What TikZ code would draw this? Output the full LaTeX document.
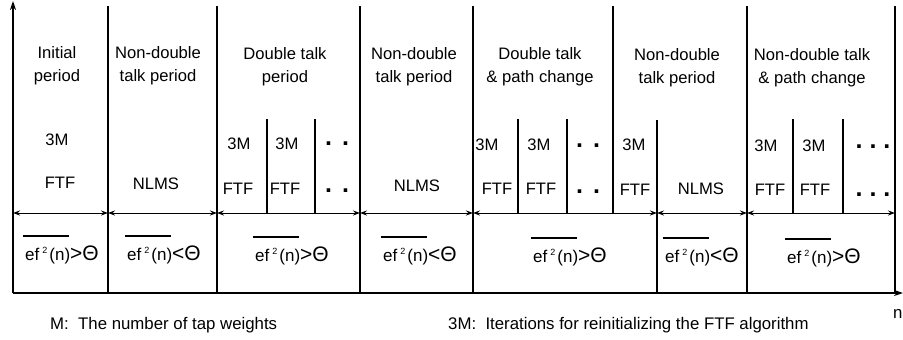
\documentclass[tikz,border=0pt]{standalone}
\usepackage{fontspec}
\setmainfont{Liberation Sans}
\usetikzlibrary{arrows.meta}
\newsavebox\efbox
\newcommand{\cnd}[1]{\sbox\efbox{ef\kern3pt\raisebox{6.5pt}{\fontsize{9}{9}\selectfont 2}\kern2pt(n)}\rlap{\kern-2pt\rule[23pt]{\dimexpr\wd\efbox+1pt\relax}{1.6pt}}\usebox\efbox{\fontsize{21}{21}\selectfont #1Θ}}
\tikzset{
  txt/.style={font=\fontsize{16.6}{20}\selectfont, inner sep=0pt, anchor=base},
  cond/.style={font=\fontsize{17}{20}\selectfont, inner sep=0pt, anchor=base},
  lbl/.style={font=\fontsize{16.8}{20}\selectfont, inner sep=0pt, anchor=base west},
  dts/.style={font=\fontsize{25}{25}\selectfont\bfseries, inner sep=0pt, anchor=base},
  mainline/.style={line width=1.8pt},
  subline/.style={line width=1.3pt},
  span/.style={line width=1pt, {Stealth[length=7pt,width=5pt]}-{Stealth[length=7pt,width=5pt]}},
  axis/.style={line width=1.8pt, -{Stealth[length=9pt,width=6pt]}},
}
\begin{document}
\begin{tikzpicture}[x=1pt,y=-1pt]
\useasboundingbox (0,0) rectangle (903,340);

% axes
\coordinate (o) at (13,293);
\coordinate (ytip) at (13,1);
\coordinate (xtip) at (903,293);
\draw[axis] (o) -- (ytip);
\draw[axis] (o) -- (xtip);

% main period separators
\foreach \x in {108,217,360,473,747,895}
  \draw[mainline] (\x,6) -- (\x,293);
\draw[mainline] (613,6) -- (613,213);
\draw[mainline] (657,120) -- (657,293);

% sub-period separators
\foreach \x in {267,315,518,567,793,843}
  \draw[subline] (\x,119) -- (\x,213);

% span arrows
\coordinate (a0) at (13,213);
\coordinate (a1) at (108,213);
\coordinate (a2) at (217,213);
\coordinate (a3) at (360,213);
\coordinate (a4) at (473,213);
\coordinate (a5) at (657,213);
\coordinate (a6) at (747,213);
\coordinate (a7) at (895,213);
\draw[span] (a0) -- (a1);
\draw[span] (a1) -- (a2);
\draw[span] (a2) -- (a3);
\draw[span] (a3) -- (a4);
\draw[span] (a4) -- (a5);
\draw[span] (a5) -- (a6);
\draw[span] (a6) -- (a7);

% headers
\node[txt] (h1a) at (57,58) {Initial};
\node[txt] (h1b) at (57,81) {period};
\node[txt] (h2a) at (158,58) {Non-double};
\node[txt] (h2b) at (158,81) {talk period};
\node[txt] (h3a) at (285,59) {Double talk};
\node[txt] (h3b) at (285,82) {period};
\node[txt] (h4a) at (414,59) {Non-double};
\node[txt] (h4b) at (414,82) {talk period};
\node[txt] (h5a) at (540,59) {Double talk};
\node[txt] (h5b) at (540,82) {\& path change};
\node[txt] (h6a) at (677,60) {Non-double};
\node[txt] (h6b) at (677,83) {talk period};
\node[txt] (h7a) at (812,60) {Non-double talk};
\node[txt] (h7b) at (812,83) {\& path change};

% 3M row
\node[txt] (m1) at (57,145) {3M};
\node[txt] (m3a) at (239,149) {3M};
\node[txt] (m3b) at (287,149) {3M};
\node[dts] (d3a) at (337,145) {.\hspace{10pt}.};
\node[txt] (m5a) at (487,150) {3M};
\node[txt] (m5b) at (539,150) {3M};
\node[dts] (d5a) at (588,147) {.\hspace{10pt}.};
\node[txt] (m6) at (634,150) {3M};
\node[txt] (m7a) at (766,151) {3M};
\node[txt] (m7b) at (814,151) {3M};
\node[dts] (d7a) at (873,148) {.\hspace{7pt}.\hspace{7pt}.};

% algorithm row
\node[txt] (f1) at (60,188) {FTF};
\node[txt] (n2) at (156,189) {NLMS};
\node[txt] (f3a) at (238,194) {FTF};
\node[txt] (f3b) at (285,194) {FTF};
\node[dts] (d3b) at (337,192) {.\hspace{10pt}.};
\node[txt] (n4) at (417,191) {NLMS};
\node[txt] (f5a) at (497,194) {FTF};
\node[txt] (f5b) at (541,194) {FTF};
\node[dts] (d5b) at (588,193) {.\hspace{10pt}.};
\node[txt] (f6) at (635,195) {FTF};
\node[txt] (n6) at (701,194) {NLMS};
\node[txt] (f7a) at (770,195) {FTF};
\node[txt] (f7b) at (815,195) {FTF};
\node[dts] (d7b) at (873,196) {.\hspace{7pt}.\hspace{7pt}.};

% conditions
\node[cond] (c1) at (62,260) {\cnd{>}};
\node[cond] (c2) at (164,260) {\cnd{<}};
\node[cond] (c3) at (292,261) {\cnd{>}};
\node[cond] (c4) at (420,261) {\cnd{<}};
\node[cond] (c5) at (570,262) {\cnd{>}};
\node[cond] (c6) at (702,262) {\cnd{<}};
\node[cond] (c7) at (824,263) {\cnd{>}};

% legend
\node[lbl] (l1) at (50,329) {M:\ \ The number of tap weights};
\node[lbl] (l2) at (448,329) {3M:\ \ Iterations for reinitializing the FTF algorithm};
\node[lbl] (nl) at (893,318) {n};
\end{tikzpicture}
\end{document}
